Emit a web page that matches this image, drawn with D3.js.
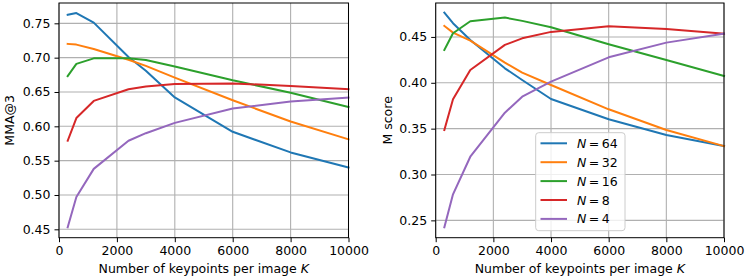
<!DOCTYPE html>
<html><head><meta charset="utf-8">
<script src="https://cdn.jsdelivr.net/npm/d3@7"></script>
<style>body{margin:0;background:#fff}svg{display:block}text{font-family:"DejaVu Sans",sans-serif}</style>
</head><body><svg id="c" width="747" height="280"></svg>
<script>
const kValues = [300, 600, 1200, 2400, 3000, 4000, 6000, 8000, 10000];
const seriesNames = ["64", "32", "16", "8", "4"];
const seriesColors = ["#1f77b4", "#ff7f0e", "#2ca02c", "#d62728", "#9467bd"];
// MMA@3
const mmaN64 = [0.7625, 0.765, 0.751, 0.701, 0.681, 0.642, 0.592, 0.562, 0.540];
const mmaN32 = [0.720, 0.719, 0.7126, 0.697, 0.688, 0.671, 0.638, 0.607, 0.581];
const mmaN16 = [0.673, 0.691, 0.699, 0.699, 0.6966, 0.687, 0.667, 0.649, 0.628];
const mmaN8  = [0.579, 0.612, 0.637, 0.654, 0.658, 0.6615, 0.6625, 0.6587, 0.654];
const mmaN4  = [0.453, 0.497, 0.538, 0.579, 0.590, 0.605, 0.626, 0.636, 0.642];
// M score
const msN64 = [0.4765, 0.465, 0.4467, 0.4158, 0.403, 0.3823, 0.3602, 0.3431, 0.331];
const msN32 = [0.462, 0.4547, 0.446, 0.422, 0.411, 0.3976, 0.3711, 0.3485, 0.331];
const msN16 = [0.4358, 0.454, 0.4671, 0.4711, 0.4675, 0.4606, 0.442, 0.4249, 0.4074];
const msN8  = [0.3485, 0.382, 0.414, 0.4413, 0.4485, 0.4555, 0.4617, 0.4587, 0.4536];
const msN4  = [0.2424, 0.2784, 0.3194, 0.3674, 0.3849, 0.4012, 0.4278, 0.4438, 0.4536];
const xTicks = [0, 2000, 4000, 6000, 8000, 10000];
const mmaTicks = [0.45, 0.50, 0.55, 0.60, 0.65, 0.70, 0.75];
const msTicks = [0.25, 0.30, 0.35, 0.40, 0.45];
const xLabel = "Number of keypoints per image ";
const mmaLabel = "MMA@3";
const msLabel = "M score";

const svg = d3.select("#c");
const FS = 12.5;

function panel(opts) {
  const {x0, x1, y0, y1, ydom, yticks, series, ylabel, ylabelX, legend} = opts;
  const x = d3.scaleLinear().domain([0, 10000]).range([x0, x1]);
  const y = d3.scaleLinear().domain(ydom).range([y1, y0]);
  const g = svg.append("g");
  // grid
  g.append("g").selectAll("line").data(xTicks).join("line")
    .attr("x1", d => x(d)).attr("x2", d => x(d)).attr("y1", y0).attr("y2", y1)
    .attr("stroke", "#b0b0b0").attr("stroke-width", 1.1);
  g.append("g").selectAll("line").data(yticks).join("line")
    .attr("y1", d => y(d)).attr("y2", d => y(d)).attr("x1", x0).attr("x2", x1)
    .attr("stroke", "#b0b0b0").attr("stroke-width", 1.1);
  // lines
  const line = d3.line().x((d, i) => x(kValues[i])).y(d => y(d));
  series.forEach((s, i) => {
    g.append("path").attr("d", line(s)).attr("fill", "none")
      .attr("stroke", seriesColors[i]).attr("stroke-width", 2)
      .attr("stroke-linejoin", "round").attr("stroke-linecap", "square");
  });
  // axes
  const xa = g.append("g").attr("transform", `translate(0,${y1})`)
    .call(d3.axisBottom(x).tickValues(xTicks).tickFormat(d3.format("d")).tickSizeOuter(0).tickSize(4.5).tickPadding(4));
  const ya = g.append("g").attr("transform", `translate(${x0},0)`)
    .call(d3.axisLeft(y).tickValues(yticks).tickFormat(d3.format(".2f")).tickSizeOuter(0).tickSize(4.5).tickPadding(4));
  [xa, ya].forEach(a => {
    a.select(".domain").remove();
    a.selectAll("line").attr("stroke", "#000").attr("stroke-width", 1);
    a.selectAll("text").attr("font-size", FS).attr("font-family", "DejaVu Sans").attr("fill", "#000");
  });
  // frame
  g.append("rect").attr("x", x0).attr("y", y0).attr("width", x1 - x0).attr("height", y1 - y0)
    .attr("fill", "none").attr("stroke", "#000").attr("stroke-width", 1);
  // labels
  const xl = g.append("text").attr("x", (x0 + x1) / 2).attr("y", 273).attr("text-anchor", "middle")
    .attr("font-size", FS);
  xl.append("tspan").text(xLabel);
  xl.append("tspan").attr("font-style", "italic").text("K");
  g.append("text").attr("transform", `translate(${ylabelX},${(y0 + y1) / 2}) rotate(-90)`)
    .attr("text-anchor", "middle").attr("dy", "0.35em").attr("font-size", FS).text(ylabel);
  if (legend) {
    const lx = 535.7, ly = 132.7, lw = 89.3, lh = 98;
    g.append("rect").attr("x", lx).attr("y", ly).attr("width", lw).attr("height", lh)
      .attr("rx", 3).attr("fill", "#fff").attr("fill-opacity", 0.8)
      .attr("stroke", "#cccccc").attr("stroke-width", 1);
    seriesNames.forEach((n, i) => {
      const yy = 143.3 + i * 18.9;
      g.append("line").attr("x1", 540.5).attr("x2", 567).attr("y1", yy).attr("y2", yy)
        .attr("stroke", seriesColors[i]).attr("stroke-width", 2);
      const t = g.append("text").attr("x", 577).attr("y", yy).attr("dy", "0.36em").attr("font-size", FS);
      t.append("tspan").attr("font-style", "italic").text("N");
      t.append("tspan").text("\u2009=\u2009" + n);
    });
  }
}

panel({x0: 59, x1: 348.5, y0: 3, y1: 237.7, ydom: [0.4378, 0.7796], yticks: mmaTicks,
  series: [mmaN64, mmaN32, mmaN16, mmaN8, mmaN4], ylabel: mmaLabel, ylabelX: 10});
panel({x0: 435.7, x1: 724, y0: 3, y1: 237.7, ydom: [0.2311, 0.487], yticks: msTicks,
  series: [msN64, msN32, msN16, msN8, msN4], ylabel: msLabel, ylabelX: 388, legend: true});
</script></body></html>
